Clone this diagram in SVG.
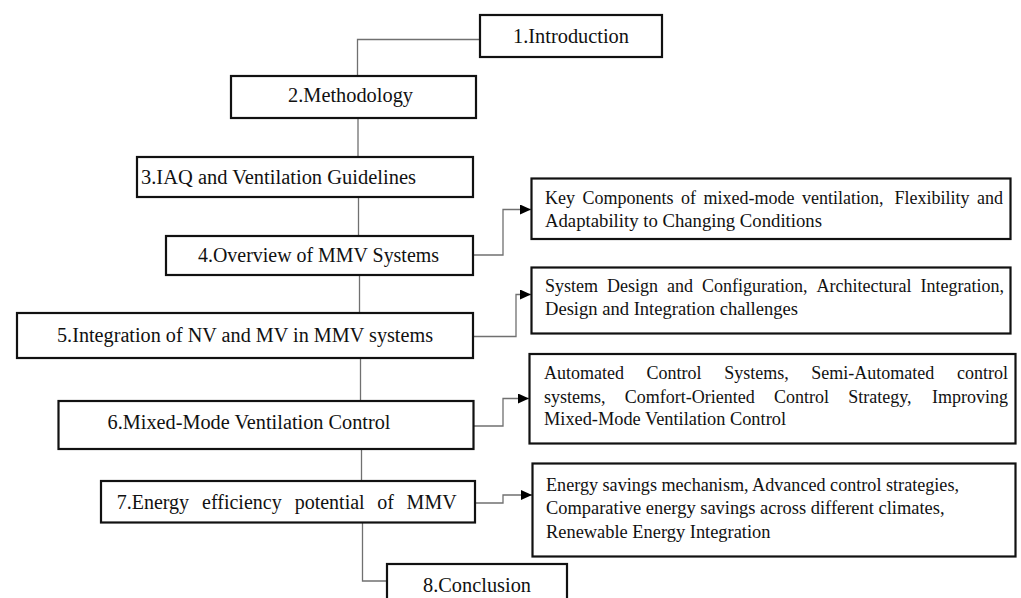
<svg xmlns="http://www.w3.org/2000/svg" width="1021" height="598" viewBox="0 0 1021 598">
<defs>
<style>
.box{fill:#fff;stroke:#111;stroke-width:2.2}
.lt{font-family:"Liberation Serif","Times New Roman",serif;font-size:20px;fill:#111}
.rt{font-family:"Liberation Serif","Times New Roman",serif;font-size:18px;fill:#111}
.con{fill:none;stroke:#707070;stroke-width:1.3}
</style>
<marker id="arr" markerWidth="12" markerHeight="10" refX="11" refY="5" orient="auto" markerUnits="userSpaceOnUse">
<path d="M0,0 L11,5 L0,10 Z" fill="#000"/>
</marker>
</defs>
<rect width="1021" height="598" fill="#fff"/>
<g id="connectors">
<polyline class="con" points="480,39.5 357.5,39.5 357.5,76"/>
<line class="con" x1="358" y1="118" x2="358" y2="157"/>
<line class="con" x1="358.5" y1="197" x2="358.5" y2="236"/>
<line class="con" x1="359.5" y1="275" x2="359.5" y2="313"/>
<line class="con" x1="360.5" y1="358" x2="360.5" y2="401"/>
<line class="con" x1="361.5" y1="449" x2="361.5" y2="481"/>
<polyline class="con" points="362.5,522.5 362.5,581 387,581"/>
<polyline class="con" points="473,255 503,255 503,209.5 531,209.5" marker-end="url(#arr)"/>
<polyline class="con" points="473,336.5 516,336.5 516,294.5 531,294.5" marker-end="url(#arr)"/>
<polyline class="con" points="473,426 503,426 503,398.5 529,398.5" marker-end="url(#arr)"/>
<polyline class="con" points="475,503 503,503 503,495 532,495" marker-end="url(#arr)"/>
</g>
<g id="n1"><rect class="box" x="480" y="15" width="182" height="42"/><text class="lt" x="513" y="42.5" textLength="116" lengthAdjust="spacingAndGlyphs">1.Introduction</text></g>
<g id="n2"><rect class="box" x="231" y="76" width="245" height="42"/><text class="lt" x="288" y="102" textLength="125" lengthAdjust="spacingAndGlyphs">2.Methodology</text></g>
<g id="n3"><rect class="box" x="137" y="157" width="336" height="40"/><text class="lt" x="141" y="184" textLength="275" lengthAdjust="spacingAndGlyphs">3.IAQ and Ventilation Guidelines</text></g>
<g id="n4"><rect class="box" x="166" y="236" width="307" height="39"/><text class="lt" x="198" y="262" textLength="241" lengthAdjust="spacingAndGlyphs">4.Overview of MMV Systems</text></g>
<g id="n5"><rect class="box" x="17" y="313" width="456" height="45"/><text class="lt" x="57" y="341.5" textLength="376" lengthAdjust="spacingAndGlyphs">5.Integration of NV and MV in MMV systems</text></g>
<g id="n6"><rect class="box" x="58.5" y="401" width="415" height="48"/><text class="lt" x="107.5" y="428.5" textLength="283" lengthAdjust="spacingAndGlyphs">6.Mixed-Mode Ventilation Control</text></g>
<g id="n7"><rect class="box" x="101" y="481" width="374" height="41.5"/><text class="lt" y="508.5"><tspan x="116.7">7.Energy</tspan><tspan x="202.1">efficiency</tspan><tspan x="294.7">potential</tspan><tspan x="377.3">of</tspan><tspan x="406.6">MMV</tspan></text></g>
<g id="n8"><rect class="box" x="387" y="564" width="180" height="40"/><text class="lt" x="423" y="591.5" textLength="108" lengthAdjust="spacingAndGlyphs">8.Conclusion</text></g>
<g id="nA"><rect class="box" x="531.5" y="178.5" width="479" height="60.5"/>
<text class="rt" y="204"><tspan x="545">Key</tspan><tspan x="582.5">Components</tspan><tspan x="681">of</tspan><tspan x="703.5">mixed-mode</tspan><tspan x="802">ventilation,</tspan><tspan x="894.6">Flexibility</tspan><tspan x="977.1">and</tspan></text>
<text class="rt" x="545" y="226.5" textLength="277" lengthAdjust="spacingAndGlyphs">Adaptability to Changing Conditions</text></g>
<g id="nB"><rect class="box" x="531.5" y="267.5" width="479" height="66"/>
<text class="rt" y="291.5"><tspan x="545">System</tspan><tspan x="607">Design</tspan><tspan x="667">and</tspan><tspan x="702">Configuration,</tspan><tspan x="816.5">Architectural</tspan><tspan x="920.5">Integration,</tspan></text>
<text class="rt" x="545" y="314.5" textLength="253" lengthAdjust="spacingAndGlyphs">Design and Integration challenges</text></g>
<g id="nC"><rect class="box" x="529.5" y="354" width="486" height="89.5"/>
<text class="rt" y="379"><tspan x="544">Automated</tspan><tspan x="646.6">Control</tspan><tspan x="724.2">Systems,</tspan><tspan x="811.3">Semi-Automated</tspan><tspan x="957">control</tspan></text>
<text class="rt" y="402.5"><tspan x="544">systems,</tspan><tspan x="624.8">Comfort-Oriented</tspan><tspan x="774">Control</tspan><tspan x="848.3">Strategy,</tspan><tspan x="932">Improving</tspan></text>
<text class="rt" x="544" y="425" textLength="242" lengthAdjust="spacingAndGlyphs">Mixed-Mode Ventilation Control</text></g>
<g id="nD"><rect class="box" x="532.5" y="463.5" width="483" height="93"/>
<text class="rt" x="546" y="490.5" textLength="413" lengthAdjust="spacingAndGlyphs">Energy savings mechanism, Advanced control strategies,</text>
<text class="rt" x="546" y="514" textLength="398.5" lengthAdjust="spacingAndGlyphs">Comparative energy savings across different climates,</text>
<text class="rt" x="546" y="538" textLength="224.5" lengthAdjust="spacingAndGlyphs">Renewable Energy Integration</text></g>
</svg>
